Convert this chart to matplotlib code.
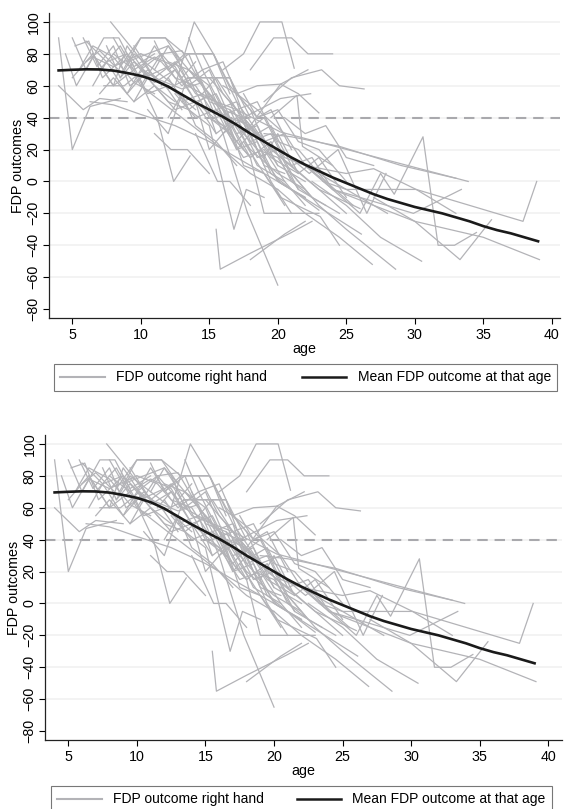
import numpy as np
import matplotlib
matplotlib.use("Agg")
import matplotlib.pyplot as plt
from matplotlib.lines import Line2D

plt.rcParams['font.family'] = ['Liberation Sans', 'DejaVu Sans']
plt.rcParams['font.size'] = 10.3

# individual trajectories (age, FDP outcome)
subj_age = [
    [4.0, 5.0, 6.3, 8.5],
    [4.0, 5.8, 7.0, 9.0],
    [4.5, 5.3, 6.5, 8.0, 10.0],
    [5.0, 6.0, 7.3, 8.4, 9.5, 11.0],
    [5.2, 6.2, 7.2, 9.0, 11.0, 12.5],
    [5.8, 6.8, 8.0, 9.2, 10.5],
    [6.0, 7.0, 8.6, 10.0, 11.8, 13.0],
    [6.3, 8.0, 10.0, 12.5, 15.0, 18.0, 22.0],
    [6.5, 8.0, 9.0, 10.5, 12.0],
    [7.0, 8.5, 10.0, 11.2, 12.4, 13.6],
    [7.8, 9.5, 11.0, 13.0, 14.5],
    [7.3, 8.8, 10.2, 11.8, 13.0],
    [8.0, 9.0, 10.5, 12.0, 13.5],
    [8.5, 10.0, 11.8, 13.2, 15.3, 16.5],
    [9.0, 10.5, 12.0, 13.5, 15.0, 16.5],
    [9.5, 11.0, 12.5, 14.0, 15.5, 17.0],
    [10.0, 11.5, 13.0, 14.5, 16.0, 17.5],
    [10.5, 12.0, 13.4, 15.0, 16.5, 18.0],
    [11.0, 12.5, 13.9, 15.3, 17.0, 19.0],
    [11.5, 13.0, 14.5, 16.0, 17.5, 19.0, 20.5],
    [12.0, 13.5, 15.0, 16.8, 17.7, 19.0],
    [15.5, 15.8, 18.0, 21.0, 22.5],
    [12.0, 13.5, 15.0, 16.5, 18.0, 20.0, 22.0],
    [14.5, 16.0, 17.8, 20.0],
    [13.5, 15.0, 16.5, 18.0, 19.0, 21.0, 23.0],
    [14.0, 15.6, 16.5, 18.0],
    [14.5, 16.0, 17.0, 18.5, 20.0, 22.0],
    [15.0, 16.5, 18.0, 19.5, 21.0, 23.0, 25.0],
    [15.5, 17.0, 18.5, 20.0, 21.5, 23.5],
    [16.0, 17.5, 18.7, 20.3, 21.2],
    [18.0, 19.7, 21.0, 22.2, 24.0],
    [19.0, 21.0, 23.2, 24.5, 26.3],
    [17.0, 18.5, 20.2, 22.2],
    [18.0, 20.2, 21.5, 23.0],
    [16.0, 17.5, 20.2, 22.4],
    [13.0, 15.5, 17.0, 20.2, 33.9],
    [17.0, 19.0, 22.0, 26.0, 29.9, 33.4],
    [20.0, 22.0, 24.0, 26.0, 27.5, 28.5, 30.6, 31.7, 32.9, 34.5],
    [27.0, 30.0, 33.3, 35.6],
    [22.0, 25.0, 27.0, 30.1, 37.9, 38.9],
    [24.0, 27.0, 30.0, 35.0, 39.1],
    [20.0, 22.0, 24.5, 26.9],
    [21.0, 23.0, 25.0, 28.6],
    [22.5, 25.0, 27.5, 30.5],
    [18.0, 20.5, 22.0],
    [20.2, 22.3, 24.4, 26.5, 27.9],
    [16.5, 18.5, 20.2, 23.0, 26.0],
    [17.5, 19.0, 20.2, 23.1, 24.5],
    [18.5, 20.2, 22.8, 26.1],
    [19.5, 21.4, 21.8, 24.0],
    [23.3, 25.0, 27.2, 30.1, 33.0],
    [12.0, 13.2, 15.3, 16.5, 18.0],
    [13.4, 16.5, 18.0],
    [5.5, 6.5, 8.0, 9.5, 11.0],
    [6.0, 7.5, 9.0, 10.5, 12.0, 14.0],
    [8.0, 9.5, 11.0, 12.5, 14.0, 16.0, 18.0],
    [10.0, 11.5, 13.0, 14.5, 16.0, 18.0, 20.0],
    [11.0, 12.0, 13.5, 15.0, 16.5, 18.5, 20.5],
    [12.5, 14.0, 15.5, 17.0, 18.5, 20.0, 22.0],
    [14.0, 15.0, 16.5, 17.5, 19.0, 20.5],
    [15.0, 16.0, 17.0, 18.0, 19.5, 21.0],
    [16.0, 17.0, 18.0, 19.5, 21.0, 23.0],
    [11.0, 12.2, 13.4, 15.0],
    [8.5, 9.5, 11.0, 12.0, 13.5, 15.0],
    [9.0, 10.0, 11.5, 13.0, 14.0],
    [7.5, 8.5, 9.5, 11.0, 12.5],
    [10.0, 11.0, 12.5, 14.0, 15.5, 17.0, 18.5],
    [11.5, 12.5, 14.0, 15.5, 17.0, 18.5, 20.0],
    [12.5, 13.5, 15.0, 16.5, 18.0, 19.5, 21.5],
    [13.0, 14.5, 15.5, 17.0, 18.5, 20.0, 21.5],
    [14.0, 15.5, 17.0, 18.0, 19.5, 21.0, 22.5],
    [15.0, 16.0, 17.5, 19.0, 20.5, 22.0],
    [16.5, 17.5, 19.0, 20.5, 22.0, 24.0],
    [17.0, 18.0, 19.5, 21.0, 22.5, 24.5],
    [18.0, 19.0, 20.5, 22.0, 23.5, 25.5],
    [19.0, 20.0, 21.5, 23.0, 25.0],
    [9.5, 10.5, 12.0, 13.5, 15.0, 16.5],
    [6.5, 7.5, 9.0, 10.0, 11.5],
    [5.0, 6.5, 8.0, 9.5],
    [7.0, 8.0, 9.5, 11.0, 12.5, 14.0, 15.5],
    [13.5, 14.5, 16.0, 17.0, 18.5, 20.5],
    [14.5, 15.5, 17.0, 18.5, 20.0, 21.5, 23.5],
    [16.0, 17.0, 18.5, 19.5, 21.0],
    [17.5, 18.5, 20.0, 21.5, 23.0, 25.0],
    [18.5, 19.5, 21.0, 22.5, 24.0, 26.0, 28.0],
    [20.5, 22.0, 23.5, 25.0, 27.0],
    [19.0, 21.0, 24.5, 29.0, 33.0],
    [12.0, 13.0, 14.0, 15.5, 17.0],
]
subj_fdp = [
    [90, 20, 47, 52],
    [60, 45, 52, 50],
    [80, 60, 78, 72, 80],
    [90, 70, 90, 90, 72, 80],
    [85, 88, 65, 80, 62, 70],
    [90, 72, 85, 60, 68],
    [75, 82, 68, 90, 90, 75],
    [50, 48, 42, 35, 25, 10, -10],
    [80, 60, 85, 66, 72],
    [70, 85, 62, 40, 0, 16],
    [100, 82, 65, 58, 62],
    [60, 60, 70, 60, 45],
    [90, 75, 80, 85, 65],
    [72, 90, 90, 80, 80, 55],
    [55, 70, 58, 65, 40, 30],
    [85, 65, 75, 55, 50, 35],
    [80, 75, 60, 70, 45, 20],
    [45, 30, 65, 65, 65, 30],
    [70, 60, 100, 80, 50, 25],
    [80, 82, 60, 45, 40, 10, 5],
    [65, 45, 35, -30, -5, -10],
    [-30, -55, -45, -32, -25],
    [75, 70, 55, 40, 20, 5, -5],
    [60, 30, -20, -65],
    [70, 60, 30, 15, -20, -20, -20],
    [30, 0, 0, -15],
    [80, 55, 45, 30, 10, 0],
    [65, 50, 35, 20, 10, -5, -20],
    [45, 35, 20, 15, -5, -15],
    [70, 80, 100, 100, 71],
    [70, 90, 90, 80, 80],
    [50, 65, 70, 60, 58],
    [55, 60, 61, 70],
    [35, 61, 55, 43],
    [30, 40, 52, 55],
    [62, 50, 45, 31, 0],
    [40, 25, 10, -10, -20, -5],
    [20, 10, -5, -20, 5, -8, 28, -40, -40, -32],
    [-10, -25, -49, -24],
    [10, 5, 8, -5, -25, 0],
    [-5, -15, -25, -35, -49],
    [-5, -20, -35, -52],
    [5, -15, -30, -55],
    [0, -15, -35, -50],
    [-49, -33, -25],
    [20, 5, 20, -20, 5],
    [45, 30, 15, -5, -17],
    [25, 5, -10, -22, -40],
    [20, -1, -15, -33],
    [40, 54, 22, 10],
    [0, -5, -5, -5, -20],
    [70, 80, 80, 60, 45],
    [65, 65, 40],
    [70, 85, 78, 62, 55],
    [88, 75, 80, 55, 60, 45],
    [80, 70, 78, 72, 50, 35, 15],
    [60, 50, 40, 30, 20, 5, -5],
    [88, 70, 80, 50, 45, 10, 0],
    [55, 40, 45, 20, 25, 0, -10],
    [50, 20, 35, 10, 5, -15],
    [55, 45, 20, 30, 0, -20],
    [40, 25, 35, 5, -5, -18],
    [30, 20, 20, 5],
    [65, 80, 70, 85, 70, 55],
    [75, 60, 80, 65, 75],
    [85, 65, 75, 60, 50],
    [70, 85, 65, 60, 40, 45, 20],
    [60, 70, 50, 55, 30, 35, 10],
    [80, 60, 70, 40, 35, 15, 5],
    [50, 55, 30, 40, 15, 20, -5],
    [70, 45, 50, 25, 30, 5, -10],
    [40, 35, 15, 20, 0, -15],
    [50, 30, 40, 15, 10, -5],
    [30, 15, 25, 0, -10, -20],
    [45, 25, 30, 10, 0, -15],
    [15, 30, 5, 15, -10],
    [50, 65, 50, 45, 55, 35],
    [60, 75, 55, 70, 80],
    [65, 80, 60, 70],
    [55, 65, 50, 60, 45, 50, 30],
    [90, 70, 75, 55, 45, 30],
    [55, 65, 45, 50, 25, 20, 0],
    [60, 55, 40, 45, 20],
    [55, 40, 45, 25, 20, 0],
    [30, 35, 10, 15, -5, -10, -20],
    [40, 30, 35, 15, 10],
    [30, 28, 22, 10, 2],
    [40, 55, 35, 25, 10],
]

# mean FDP outcome at each age
mean_age = [4, 5, 6, 7, 8, 9, 10, 11, 12, 13, 14, 15, 16, 17, 18, 19, 20, 21,
            22, 23, 24, 25, 26, 27, 28, 29, 30, 31, 32, 33, 34, 35, 36, 37, 38, 39]
mean_fdp = [69.6, 70, 70.3, 70.2, 69.5, 68, 66.2, 63.5, 59.5, 54.5, 49.5, 45,
            40.5, 35.5, 30, 25, 20, 15, 10.5, 6.5, 2.5, -1, -4.5, -8, -11,
            -13.5, -16, -18, -20, -22.5, -25, -28, -30.5, -32.5, -35, -37.5]

cutoff = 40
yticks = list(range(-80, 101, 20))
xticks = list(range(5, 41, 5))
gray = '#b3b3b7'


def draw_panel(ax, xmax):
    for y in yticks[1:]:
        ax.axhline(y, color='#f1f1f1', lw=1.2, zorder=0)
    ax.axhline(cutoff, color='#a9a9ad', lw=1.5, ls=(0, (5, 3.3)), zorder=1)
    for a, v in zip(subj_age, subj_fdp):
        ax.plot(a, v, color=gray, lw=0.9, zorder=2)
    ax.plot(mean_age, mean_fdp, color='#1a1a1a', lw=1.9, zorder=3)
    ax.set_xlim(3.3, xmax)
    ax.set_ylim(-85.6, 105.6)
    ax.set_yticks(yticks)
    ax.set_xticks(xticks)
    ax.tick_params(axis='y', labelrotation=90, length=4, width=0.8, pad=2)
    ax.tick_params(axis='x', length=4, width=0.8, pad=3)
    for lab in ax.get_yticklabels():
        lab.set_va('center')
    for s in ['top', 'right']:
        ax.spines[s].set_visible(False)
    for s in ['left', 'bottom']:
        ax.spines[s].set_linewidth(0.9)
        ax.spines[s].set_color('#222222')
    ax.set_ylabel('FDP outcomes', labelpad=1)
    ax.set_xlabel('age', labelpad=0)


fig = plt.figure(figsize=(5.64, 8.09), dpi=100)
W, H = 564.0, 809.0

ax1 = fig.add_axes([49 / W, 1 - 318 / H, 511 / W, 305 / H])
draw_panel(ax1, 40.6)
ax2 = fig.add_axes([45 / W, 1 - 740 / H, 517 / W, 305 / H])
draw_panel(ax2, 41.0)

handles = [Line2D([], [], color=gray, lw=1.5),
           Line2D([], [], color='#1a1a1a', lw=1.8)]
labels = ['FDP outcome right hand', 'Mean FDP outcome at that age']
for (x0, x1, y0) in [(54, 557, 365), (51, 552, 787)]:
    leg = fig.legend(handles, labels, ncol=2, mode='expand', loc='upper left',
                     bbox_to_anchor=(x0 / W, 1 - y0 / H, (x1 - x0) / W, 0.001),
                     borderaxespad=0, frameon=True, fancybox=False,
                     handlelength=3.2, fontsize=10, borderpad=0.45)
    leg.get_frame().set_edgecolor('#555555')
    leg.get_frame().set_linewidth(0.8)

fig.savefig('out.png', dpi=100)
